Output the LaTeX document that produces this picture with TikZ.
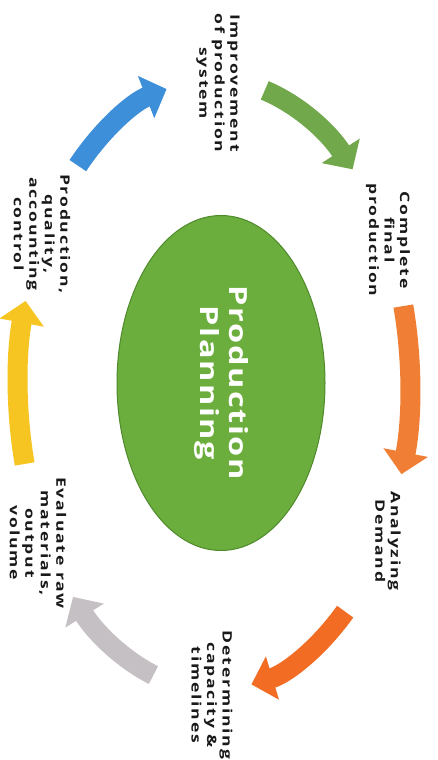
\documentclass[tikz,border=0pt]{standalone}
\usepackage{fontspec}
\setmainfont{Open Sans}
\newfontfamily\lblfont[FakeStretch=1.35,LetterSpace=14]{Open Sans}
\newfontfamily\corefont[FakeStretch=1.3,LetterSpace=7]{Open Sans}
\usetikzlibrary{arrows.meta,shapes.geometric}
\definecolor{ellgreen}{HTML}{6BAE3E}
\definecolor{elledge}{HTML}{4F8A2B}
\definecolor{arrblue}{HTML}{3D8FDA}
\definecolor{arrgreen}{HTML}{72A84C}
\definecolor{arrorange}{HTML}{F07F35}
\definecolor{arrorangeb}{HTML}{F26C24}
\definecolor{arrgray}{HTML}{C4C0C4}
\definecolor{arryellow}{HTML}{F6C521}
\begin{document}
\begin{tikzpicture}[x=1pt,y=-1pt,
  lbl/.style={rotate=-90, align=center, inner sep=0pt, text=black!90,
    font=\lblfont\bfseries\fontsize{13}{15.5}\selectfont},
  carrow/.style={line width=20pt, draw=#1,
    -{Triangle[length=22pt,width=44pt,fill=#1]}}]
\useasboundingbox (0,0) rectangle (438,760);
\fill[white] (0,0) rectangle (438,760);
% centre ellipse
\node[ellipse, rotate=-90, minimum width=335pt, minimum height=208pt,
  fill=ellgreen, draw=elledge, line width=1pt, text=white, align=center,
  font=\corefont\bfseries\fontsize{25}{29}\selectfont] (core) at (221,383)
  {Production\\Planning};
% arrows on a ring
\def\cx{214}\def\cy{385}\def\rx{196}\def\ry{305}
\draw[carrow=arrblue] ({\cx+\rx*cos(-134)},{\cy+\ry*sin(-134)})
  arc[start angle=-134, end angle=-104, x radius=\rx, y radius=\ry];
\draw[carrow=arrgreen] ({\cx+\rx*cos(-75)},{\cy+\ry*sin(-75)})
  arc[start angle=-75, end angle=-45, x radius=\rx, y radius=\ry];
\draw[carrow=arrorange] ({\cx+\rx*cos(-15)},{\cy+\ry*sin(-15)})
  arc[start angle=-15, end angle=17, x radius=\rx, y radius=\ry];
\draw[carrow=arrorangeb] ({\cx+\rx*cos(48)},{\cy+\ry*sin(48)})
  arc[start angle=48, end angle=79, x radius=\rx, y radius=\ry];
\draw[carrow=arrgray] ({\cx+\rx*cos(108)},{\cy+\ry*sin(108)})
  arc[start angle=108, end angle=136, x radius=\rx, y radius=\ry];
\draw[carrow=arryellow] ({\cx+\rx*cos(165)},{\cy+\ry*sin(165)})
  arc[start angle=165, end angle=196, x radius=\rx, y radius=\ry];
% labels
\node[lbl] (l1) at (218,83) {Improvement\\of production\\system};
\node[lbl] (l2) at (388,240) {Complete\\final\\production};
\node[lbl] (l3) at (388,541) {Analyzing\\Demand};
\node[lbl] (l4) at (212,695) {Determining\\capacity \&\\timelines};
\node[lbl] (l5) at (38,543) {Evaluate raw\\materials,\\output\\volume};
\node[lbl] (l6) at (42,234) {Production,\\quality,\\accounting\\control};
\end{tikzpicture}
\end{document}
